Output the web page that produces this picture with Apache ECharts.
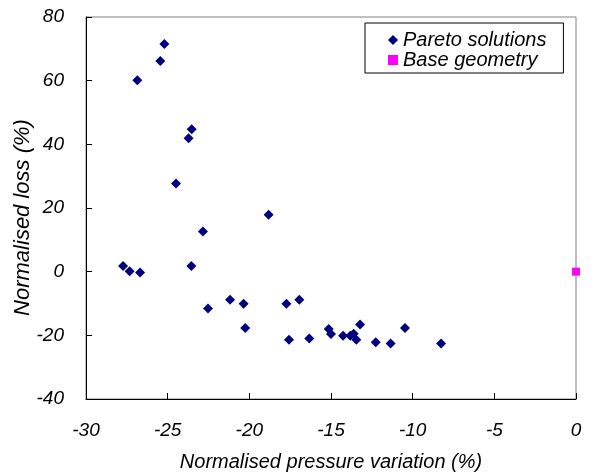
<!DOCTYPE html>
<html>
<head>
<meta charset="utf-8">
<script src="https://cdn.jsdelivr.net/npm/echarts@6/dist/echarts.min.js"></script>
<style>
  html, body { margin: 0; padding: 0; background: #fff; }
  #chart { width: 596px; height: 475px; }
</style>
</head>
<body>
<div id="chart"></div>
<script>
// pareto front points
var paretoX = [-25.2, -25.45, -26.86, -23.53, -23.72, -24.49, -18.82, -22.84, -27.73, -27.33, -26.69,
    -23.55, -21.18, -20.35, -22.53, -20.25, -17.73, -16.94, -17.57, -16.33, -15.14, -15.0,
    -14.26, -13.82, -13.61, -13.45, -13.22, -12.26, -11.35, -10.47, -8.26];
var paretoY = [71.5, 66.2, 60.1, 44.7, 41.9, 27.7, 17.9, 12.6, 1.8, 0.1, -0.3,
    1.8, -8.8, -10.1, -11.6, -17.7, -10.1, -8.8, -21.4, -21.0, -18.0, -19.6,
    -20.1, -20.1, -19.5, -21.4, -16.6, -22.2, -22.6, -17.7, -22.6];
var baseX = [0];
var baseY = [0];

var xTicks = [-30, 0, 5];   // min, max, step
var yTicks = [-40, 80, 20];

function pairs(xs, ys) {
    var out = [];
    for (var i = 0; i < xs.length; i++) out.push([xs[i], ys[i]]);
    return out;
}

var font = '"Liberation Sans", Arial, sans-serif';
var myChart = echarts.init(document.getElementById('chart'));

var option = {
    animation: false,
    grid: {
        left: 86, right: 20, top: 17, bottom: 76,
        outerBoundsMode: 'none',
        containLabel: false,
        show: true,
        borderColor: '#808080',
        borderWidth: 1
    },
    legend: {
        orient: 'vertical',
        left: 365,
        top: 23,
        padding: [7, 17, 3, 23],
        itemGap: 0,
        itemWidth: 10,
        itemHeight: 10,
        borderColor: '#000',
        borderWidth: 1,
        backgroundColor: '#fff',
        textStyle: {
            fontFamily: font,
            fontStyle: 'italic',
            fontSize: 20,
            lineHeight: 18,
            color: '#000'
        },
        data: ['Pareto solutions', 'Base geometry']
    },
    xAxis: {
        type: 'value',
        min: xTicks[0],
        max: xTicks[1],
        interval: xTicks[2],
        name: 'Normalised pressure variation (%)',
        nameLocation: 'middle',
        nameGap: 53,
        nameMoveOverlap: false,
        nameTextStyle: { fontFamily: font, fontStyle: 'italic', fontSize: 20, color: '#000' },
        axisLine: { onZero: false, lineStyle: { color: '#000', width: 1 } },
        axisTick: { inside: true, length: 6, lineStyle: { color: '#000' } },
        axisLabel: { margin: 22, fontFamily: font, fontStyle: 'italic', fontSize: 19, color: '#000' },
        splitLine: { show: false }
    },
    yAxis: {
        type: 'value',
        min: yTicks[0],
        max: yTicks[1],
        interval: yTicks[2],
        name: 'Normalised loss (%)',
        nameLocation: 'middle',
        nameGap: 52,
        nameMoveOverlap: false,
        nameTextStyle: { fontFamily: font, fontStyle: 'italic', fontSize: 22, color: '#000', padding: [0, 19, 0, 0] },
        axisLine: { onZero: false, lineStyle: { color: '#000', width: 1 } },
        axisTick: { inside: true, length: 6, lineStyle: { color: '#000' } },
        axisLabel: { margin: 22, fontFamily: font, fontStyle: 'italic', fontSize: 19, color: '#000' },
        splitLine: { show: false }
    },
    series: [
        {
            name: 'Pareto solutions',
            type: 'scatter',
            symbol: 'diamond',
            symbolSize: 10,
            itemStyle: { color: '#000080', opacity: 1 },
            data: pairs(paretoX, paretoY)
        },
        {
            name: 'Base geometry',
            type: 'scatter',
            symbol: 'rect',
            symbolSize: 8,
            itemStyle: { color: '#ff00ff', opacity: 1 },
            data: pairs(baseX, baseY)
        }
    ]
};
myChart.setOption(option);
</script>
</body>
</html>
